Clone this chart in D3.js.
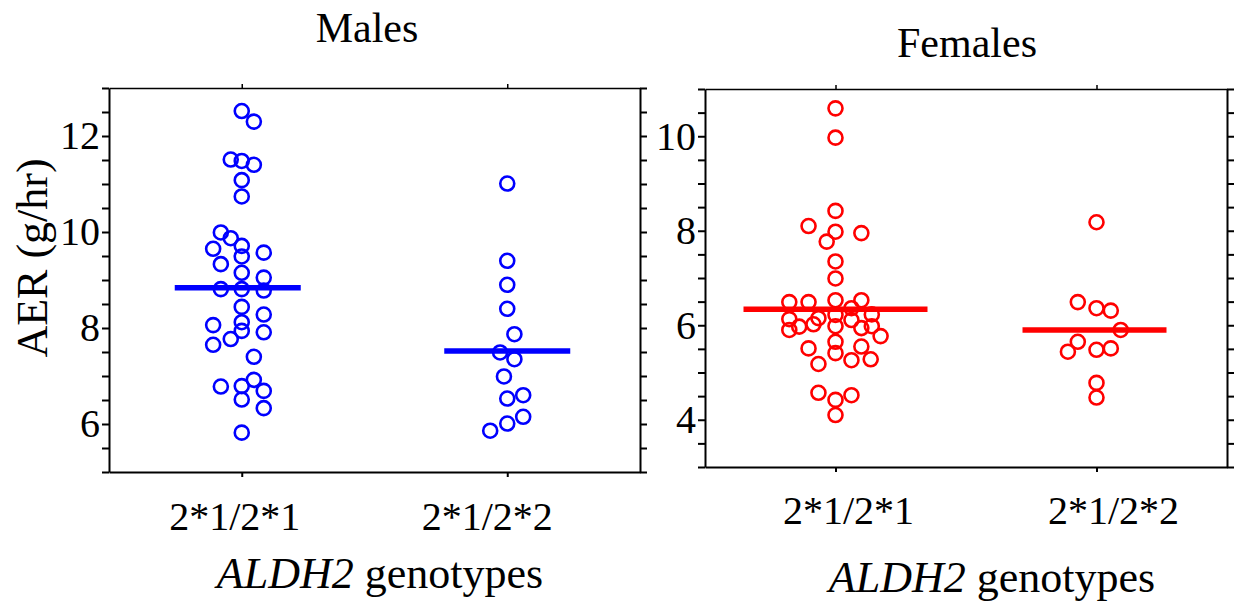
<!DOCTYPE html>
<html>
<head>
<meta charset="utf-8">
<script src="https://cdn.jsdelivr.net/npm/d3@7"></script>
<style>
  html, body { margin: 0; padding: 0; background: #fff; }
  svg { display: block; }
  .axis path, .axis line { stroke: #000; stroke-width: 2; }
</style>
</head>
<body>
<svg id="chart"></svg>
<script>
const genotypes = ['2*1/2*1', '2*1/2*2'];
const yTicksMales = [6, 8, 10, 12];
const yTicksFemales = [4, 6, 8, 10];

// AER values, with the horizontal spread of each dot (in dot columns)
const malesWild = [12.52, 12.30, 11.51, 11.48, 11.40, 11.08, 10.74, 9.99, 9.87, 9.71, 9.65, 9.57,
  9.49, 9.33, 9.15, 9.05, 8.81, 8.81, 8.78, 8.44, 8.28, 8.06, 8.12, 7.94, 7.91, 7.77, 7.65, 7.40,
  6.92, 6.78, 6.79, 6.69, 6.51, 6.33, 5.82];
const malesWildSpread = [0, 1.1, -1, 0, 1.1, 0, 0, -1.9, -1, 0, -2.6, 2,
  0, -1.9, 0, 2, -1.9, 0, 2, 0, 2, -2.6, 0, 0, 2, -1, -2.6, 1.1,
  1.1, -1.9, 0, 2, 0, 2, 0];
const malesHet = [11.01, 9.40, 8.90, 8.40, 7.87, 7.49, 7.35, 6.99, 6.60, 6.53, 6.15, 6.01, 5.86];
const malesHetSpread = [0, 0, 0, 0, 0.65, -0.65, 0.65, -0.3, 1.45, 0, 1.45, 0, -1.55];

const femalesWild = [10.59, 9.97, 8.42, 8.10, 7.98, 7.95, 7.77, 7.35, 6.99, 6.49, 6.49, 6.53,
  6.53, 6.36, 6.23, 6.13, 6.15, 6.22, 6.11, 5.97, 6.02, 5.98, 5.90, 5.94, 5.98, 5.77, 5.65,
  5.51, 5.55, 5.41, 5.18, 5.26, 5.28, 4.57, 4.52, 4.42, 4.10];
const femalesWildSpread = [0, 0, 0, -2.45, 0, 2.35, -0.8, 0, 0, -4.2, -2.45, 0,
  2.35, 1.45, 3.3, -4.2, -1.55, 0, 1.45, -3.3, -2, 0, -4.2, 2.35, 3.3, 4.1, 0,
  -2.45, 2.35, 0, -1.55, 1.45, 3.2, -1.55, 1.45, 0, 0];
const femalesHet = [8.18, 6.49, 6.36, 6.31, 5.90, 5.65, 5.44, 5.48, 5.51, 4.78, 4.47];
const femalesHetSpread = [0, -1.7, 0, 1.3, 2.2, -1.7, -2.6, 0, 1.3, 0, 0];

const malesMeans = [8.84, 7.52];
const femalesMeans = [6.34, 5.90];

const FONT = '"Times New Roman", "Liberation Serif", serif';
const width = 1234;
const height = 601;
const svg = d3.select('#chart')
  .attr('width', width)
  .attr('height', height)
  .style('font-family', FONT);

const panels = [
  {
    title: 'Males', color: '#0000ff', titleX: 367, titleY: 42,
    left: 109, right: 640, top: 88, bottom: 472, domain: [5, 13], ticks: yTicksMales,
    groups: [malesWild, malesHet], spread: [malesWildSpread, malesHetSpread], means: malesMeans,
    meanHalf: [63, 63], meanShift: [-4, 0], labelShift: [-7, -20], labelY: 530,
    xTitleX: 380, xTitleY: 588, yTitle: true
  },
  {
    title: 'Females', color: '#ff0000', titleX: 967, titleY: 57,
    left: 705, right: 1227, top: 89, bottom: 467, domain: [3, 11], ticks: yTicksFemales,
    groups: [femalesWild, femalesHet], spread: [femalesWildSpread, femalesHetSpread], means: femalesMeans,
    meanHalf: [92, 72], meanShift: [0, -2], labelShift: [13, 17], labelY: 524,
    xTitleX: 992, xTitleY: 592, yTitle: false
  }
];

const spreadScale = d3.scaleLinear().domain([-1, 1]).range([-11, 11]);

panels.forEach(p => {
  const x = d3.scalePoint().domain(genotypes).range([p.left, p.right]).padding(0.5);
  const y = d3.scaleLinear().domain(p.domain).range([p.bottom, p.top]);
  const allTicks = d3.range(p.domain[0], p.domain[1] + 0.001, 0.5);
  const g = svg.append('g');

  // frame with ticks
  const yAxis = g.append('g').attr('class', 'axis')
    .attr('transform', `translate(${p.left},0)`)
    .call(d3.axisLeft(y).tickValues(allTicks).tickSize(7).tickSizeOuter(0).tickPadding(2)
      .tickFormat(d => p.ticks.includes(d) ? d : ''));
  yAxis.attr('font-family', FONT).attr('font-size', 40);
  yAxis.selectAll('text').style('font-family', FONT).attr('fill', '#000');

  g.append('g').attr('class', 'axis')
    .attr('transform', `translate(${p.right},0)`)
    .call(d3.axisRight(y).tickValues(allTicks).tickSize(7).tickSizeOuter(0).tickFormat(''));
  g.append('g').attr('class', 'axis')
    .attr('transform', `translate(0,${p.bottom})`)
    .call(d3.axisBottom(x).tickSize(5).tickSizeOuter(0).tickFormat(''));
  g.append('g').attr('class', 'axis top')
    .attr('transform', `translate(0,${p.top})`)
    .call(d3.axisTop(x).tickSize(4).tickSizeOuter(0).tickFormat(''));
  g.selectAll('.top path, .top line').style('stroke-width', 1.5);

  // category labels
  g.selectAll('text.cat')
    .data(genotypes)
    .join('text')
    .attr('class', 'cat')
    .attr('x', (d, i) => x(d) + p.labelShift[i])
    .attr('y', p.labelY)
    .attr('text-anchor', 'middle')
    .attr('font-size', 40)
    .text(d => d);

  // dots
  p.groups.forEach((vals, gi) => {
    g.append('g')
      .selectAll('circle')
      .data(vals)
      .join('circle')
      .attr('cx', (d, i) => x(genotypes[gi]) + spreadScale(p.spread[gi][i]))
      .attr('cy', d => y(d))
      .attr('r', 7)
      .attr('fill', 'none')
      .attr('stroke', p.color)
      .attr('stroke-width', 2.6);
  });

  // mean bars
  g.append('g')
    .selectAll('line')
    .data(p.means)
    .join('line')
    .attr('x1', (d, i) => x(genotypes[i]) + p.meanShift[i] - p.meanHalf[i])
    .attr('x2', (d, i) => x(genotypes[i]) + p.meanShift[i] + p.meanHalf[i])
    .attr('y1', d => y(d))
    .attr('y2', d => y(d))
    .attr('stroke', p.color)
    .attr('stroke-width', 5.5);

  // titles
  g.append('text')
    .attr('x', p.titleX)
    .attr('y', p.titleY)
    .attr('text-anchor', 'middle')
    .attr('font-size', 42)
    .text(p.title);

  const xt = g.append('text')
    .attr('x', p.xTitleX)
    .attr('y', p.xTitleY)
    .attr('text-anchor', 'middle')
    .attr('font-size', 44);
  xt.append('tspan').attr('font-style', 'italic').text('ALDH2');
  xt.append('tspan').text(' genotypes');

  if (p.yTitle) {
    g.append('text')
      .attr('transform', `translate(47,${(p.top + p.bottom) / 2 - 22}) rotate(-90)`)
      .attr('text-anchor', 'middle')
      .attr('font-size', 44)
      .text('AER (g/hr)');
  }
});
</script>
</body>
</html>
